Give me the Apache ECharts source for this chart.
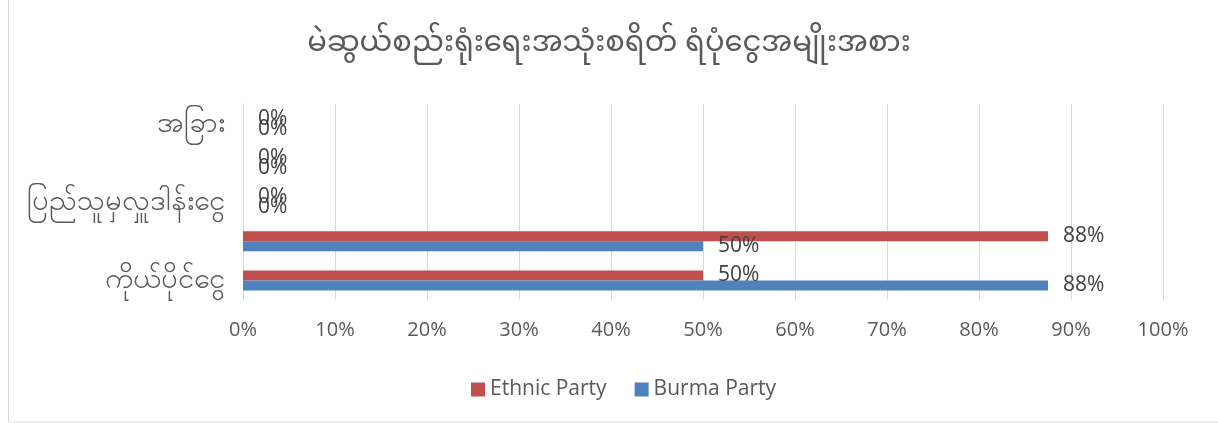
<!DOCTYPE html>
<html><head><meta charset="utf-8">
<script src="https://cdn.jsdelivr.net/npm/echarts@6/dist/echarts.min.js"></script>
<style>html,body{margin:0;padding:0;background:#fff}#c{width:1218px;height:423px}</style>
</head><body><div id="c"></div>
<script>
const titleText = 'မဲဆွယ်စည်းရုံးရေးအသုံးစရိတ် ရံပုံငွေအမျိုးအစား';
const categories = ['ကိုယ်ပိုင်ငွေ', 'ပါတီရန်ပုံငွေ', 'ပြည်သူမှလှူဒါန်းငွေ', 'အလှူငွေ', 'အခြား'];
const burmaParty = [87.5, 50, 0, 0, 0];
const ethnicParty = [50, 87.5, 0, 0, 0];
const xTicks = [0, 10, 20, 30, 40, 50, 60, 70, 80, 90, 100];

const FONT = '"Open Sans", "Noto Sans", sans-serif';
const chart = echarts.init(document.getElementById('c'));
const labelCfg = {
  show: true, position: 'right', distance: 15, color: '#404040',
  fontSize: 21, fontFamily: FONT,
  formatter: p => Math.round(p.value) + '%'
};
chart.setOption({
  animation: false,
  title: {
    text: titleText, left: 'center', top: 28,
    textStyle: { fontSize: 29, fontWeight: 'normal', color: '#595959', fontFamily: '"Noto Sans Myanmar", "Padauk", "Myanmar Text", sans-serif' }
  },
  graphic: [{ type: 'rect', shape: { x: 8.5, y: -5, width: 1300, height: 427 }, style: { fill: 'none', stroke: '#d9d9d9', lineWidth: 1 } }],
  legend: {
    data: ['Ethnic Party', 'Burma Party'], top: 374, left: 466,
    itemWidth: 14, itemHeight: 14, itemGap: 28,
    icon: 'rect',
    textStyle: { fontSize: 21, color: '#595959', fontFamily: FONT }
  },
  grid: { left: 243, right: 55, top: 104, bottom: 123 },
  xAxis: {
    type: 'value', min: 0, max: 100, interval: 10,
    axisLine: { show: false }, axisTick: { show: false },
    splitLine: { lineStyle: { color: '#d9d9d9' } },
    axisLabel: { formatter: v => xTicks.includes(v) ? v + '%' : '', fontSize: 20, color: '#595959', fontFamily: FONT, margin: 20 }
  },
  yAxis: {
    type: 'category', data: categories,
    axisLine: { show: true, lineStyle: { color: '#d9d9d9' } }, axisTick: { show: false },
    axisLabel: { interval: 1, fontSize: 29, color: '#595959', margin: 18 }
  },
  series: [
    { name: 'Ethnic Party', type: 'bar', data: ethnicParty, barWidth: 10, barGap: '0%', itemStyle: { color: '#c0504d' }, label: labelCfg },
    { name: 'Burma Party', type: 'bar', data: burmaParty, barWidth: 10, barGap: '0%', itemStyle: { color: '#4f81bd' }, label: labelCfg }
  ]
});
</script></body></html>
